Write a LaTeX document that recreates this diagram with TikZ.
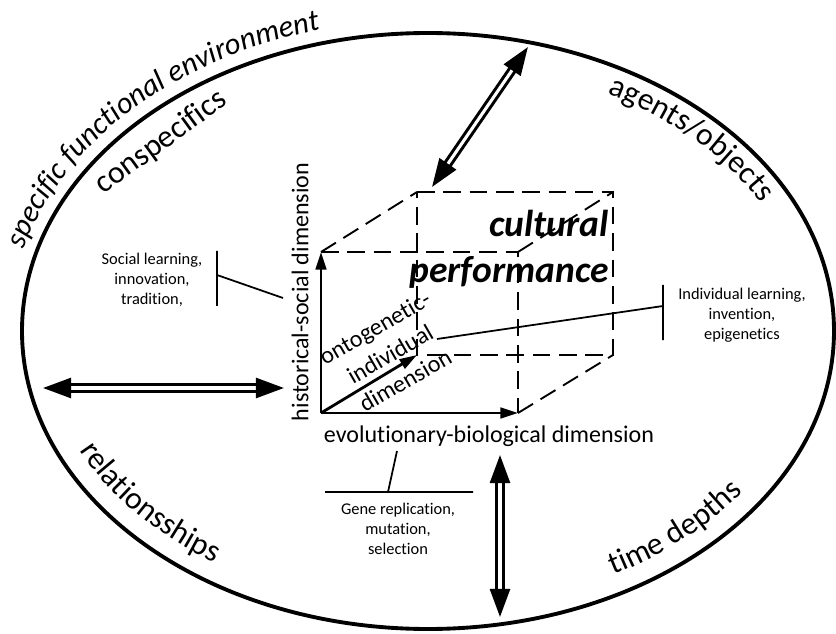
\documentclass[tikz,border=0pt]{standalone}
\usepackage{fontspec}
\setmainfont{Carlito}[Ligatures={NoCommon,NoContextual}]
\usetikzlibrary{arrows.meta,decorations.text}

\begin{document}
\begin{tikzpicture}[x=0.03cm,y=0.03cm,
    axis/.style={line width=2.4pt,-{Triangle[length=15pt,width=9pt]}},
    hidden/.style={line width=1.6pt,dash pattern=on 15pt off 7.5pt},
    dbl/.style={double,double distance=2.6pt,line width=2.6pt,
      {Triangle[length=24pt,width=17pt]}-{Triangle[length=24pt,width=17pt]}},
    leader/.style={line width=1.5pt},
    small/.style={align=center,font=\fontsize{14}{17}\selectfont},
    dimlabel/.style={align=center,font=\fontsize{20.5}{26}\selectfont},
    curved/.style={decorate,decoration={text along path,text align=center,text={#1}}}]
  \useasboundingbox (0,0) rectangle (836,633);
  \draw[line width=3.3pt] (428,302) ellipse [x radius=406, y radius=298];

  \path[curved={|\itshape\fontsize{26}{31}\selectfont|specific functional environment}]
    ([shift={(428,302)}]170:419 and 312) arc[start angle=170,end angle=101,x radius=419,y radius=312];
  \path[curved={|\fontsize{27}{32}\selectfont|agents/objects}]
    ([shift={(428,302)}]66:378 and 270) arc[start angle=66,end angle=23,x radius=378,y radius=270];
  \path[curved={|\fontsize{27}{32}\selectfont|relationsships}]
    ([shift={(428,302)}]201:386 and 278) arc[start angle=201,end angle=240,x radius=386,y radius=278];
  \path[curved={|\fontsize{27}{32}\selectfont|time depths}]
    ([shift={(428,302)}]295:386 and 278) arc[start angle=295,end angle=329,x radius=386,y radius=278];
  \node[rotate=36,anchor=base,font=\fontsize{27}{32}\selectfont] (consp) at (166,484) {conspecifics};

  \coordinate (o) at (321,220);
  \coordinate (ftl) at (321,381);
  \coordinate (fbr) at (518,220);
  \coordinate (ftr) at (518,381);
  \coordinate (bbl) at (417,278);
  \coordinate (btl) at (417,441);
  \coordinate (btr) at (613,441);
  \coordinate (bbr) at (613,278);
  \draw[hidden] (ftl) -- (ftr) -- (fbr);
  \draw[hidden] (btl) -- (btr) -- (bbr) -- (bbl) -- cycle;
  \foreach \f/\b in {ftl/btl,ftr/btr,fbr/bbr}
    \draw[hidden] (\f) -- (\b);
  \foreach \t in {ftl,fbr,bbl}
    \draw[axis] (o) -- (\t);

  \node[dimlabel,rotate=90] (hist) at (300,341) {historical-social dimension};
  \node[dimlabel] (evo) at (489,197) {evolutionary-biological dimension};
  \node[dimlabel,rotate=30] (onto) at (390,279) {ontogenetic-\\individual\\dimension};
  \node[align=right,anchor=east,inner sep=0pt,font=\bfseries\itshape\fontsize{32}{39}\selectfont] (perf) at (609,384) {cultural\\performance};

  \node[small] (soc) at (152,353) {Social learning,\\innovation,\\tradition,};
  \node[small] (ind) at (742,318) {Individual learning,\\invention,\\epigenetics};
  \node[small] (gene) at (398,104) {Gene replication,\\mutation,\\selection};

  \coordinate (socT) at (217,382);
  \coordinate (socB) at (217,327);
  \coordinate (socJ) at (217,358);
  \coordinate (socE) at (283,335);
  \coordinate (indT) at (663,348);
  \coordinate (indB) at (663,293);
  \coordinate (indJ) at (663,327);
  \coordinate (indE) at (437,294);
  \coordinate (geneL) at (325,141);
  \coordinate (geneR) at (473,141);
  \coordinate (geneJ) at (388,141);
  \coordinate (geneE) at (397,182);
  \draw[leader] (socT) -- (socB) (socJ) -- (socE);
  \draw[leader] (indT) -- (indB) (indJ) -- (indE);
  \draw[leader] (geneL) -- (geneR) (geneJ) -- (geneE);

  \coordinate (topIn) at (432,446);
  \coordinate (topOut) at (528,586);
  \coordinate (leftOut) at (43,245);
  \coordinate (leftIn) at (284,245);
  \coordinate (botIn) at (500,178);
  \coordinate (botOut) at (500,16);
  \draw[dbl] (topIn) -- (topOut);
  \draw[dbl] (leftOut) -- (leftIn);
  \draw[dbl] (botIn) -- (botOut);
\end{tikzpicture}
\end{document}
